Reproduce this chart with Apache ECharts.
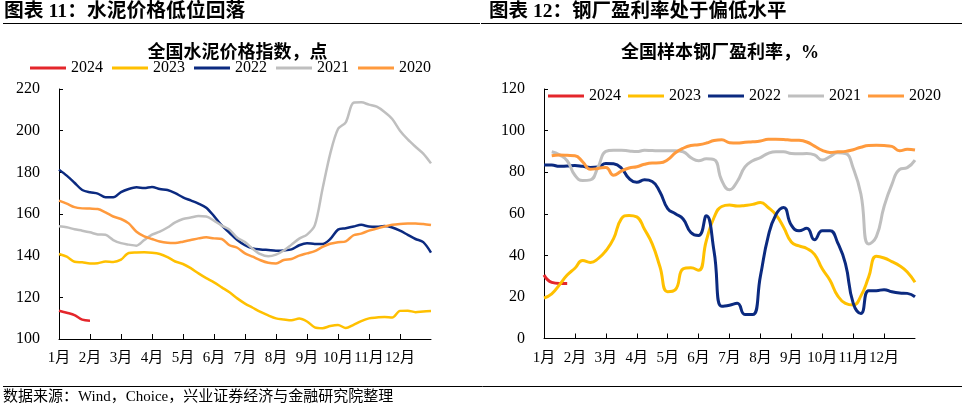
<!DOCTYPE html>
<html><head><meta charset="utf-8">
<script src="https://cdn.jsdelivr.net/npm/echarts@6/dist/echarts.min.js"></script>
<style>html,body{margin:0;padding:0;background:#fff}#c{width:967px;height:408px}</style>
</head><body><div id="c"></div>
<script>
const FONT = '"Liberation Serif", "Noto Sans CJK SC", serif';
const monthLabels = ['1月','2月','3月','4月','5月','6月','7月','8月','9月','10月','11月','12月'];
const yearNames = ['2024','2023','2022','2021','2020'];
const yearColors = ['#E4262B','#FFC000','#0B2A80','#BFBFBF','#FF9A3D'];
// weekly categories (4 per month) + year end
const weeks = [];
for (let m = 1; m <= 12; m++) for (let w = 1; w <= 4; w++) weeks.push(m + '月第' + w + '周');
weeks.push('年末');

// Cement price index (points)
const cement2024 = [113.6,112.6,111.5,109.3,108.8];
const cement2023 = [140.8,139.5,137.1,136.8,136.3,136.4,137.2,137,138.1,141.3,141.5,141.6,141.4,140.8,139.3,137.2,136,134,131.5,129.2,127.2,124.8,122.4,119.5,117,115,113,111.3,109.9,109.4,109,109.8,108.4,105.6,105.2,106.2,106.7,105.3,106.8,108.6,109.9,110.3,110.6,110.3,113.5,113.6,112.9,113.2,113.4];
const cement2022 = [181.3,178.4,175,171.5,170.4,169.8,168,168,170.5,172,172.8,172.5,173,172,171.5,170,168,166.5,165,163,159,154.5,151,147.5,145,143.5,143,142.7,142.4,142.5,143,145,146,145.6,145.6,148,152.5,153.2,154,154.8,154,153.9,154.2,153.5,152,150,148,146.5,141.5];
const cement2021 = [154.1,153.6,152.7,152,151.2,150.2,150,147.5,146,145.3,144.8,147.5,150.1,151.5,153.5,156,157.6,158.3,159,158.8,156.8,154.4,152.5,148.6,146.5,143.3,140.7,139.7,140.5,142.5,145.3,148.2,150.1,154.5,172,189,200.8,204,213.4,213.6,212.5,211.5,209,205.6,200,195.8,192.3,189,184.3];
const cement2020 = [166.4,165,163.3,162.7,162.6,162.4,160.8,158.8,157.6,155.5,151.5,149.3,148,146.8,146.2,146.1,146.7,147.5,148.3,148.8,148.3,148,145,143.8,141.1,139.5,137.8,136.6,136.3,137.9,138.4,140,141.1,142.2,144.2,145.7,146.4,146.9,149.8,150.6,152,153,154,154.8,155.2,155.4,155.5,155.2,154.7];

// Steel mill profit ratio (%)
const steel2024 = [30.5,27,26.5,26.5];
const steel2023 = [19.5,21.5,25.8,30.5,33.8,37.5,36.6,38.4,42.2,48,57.5,59.2,58.5,52.5,45.5,34.5,22.5,23.5,33.5,34,32.8,47,58.2,63.5,64.2,63.7,64,64.5,65.4,63,59.5,53.5,46.4,44.5,43.3,40.5,33.5,28,20.5,16.9,16.1,20.5,29.5,39.5,38.7,37,35,32,27];
const steel2022 = [83.4,83.4,82.8,83,83.2,82.8,82.3,82.5,84.2,84,82,77,75.1,76.3,75.5,70.5,62.5,60,57.5,51,49.5,59,42,15.5,16,16.9,11.5,11.5,30,49,59.5,63,54.5,51.8,53,47.5,51.8,51.8,46,36,17,12,23,23,23.5,22.5,21.9,21.7,20.1];
const steel2021 = [null,89.8,88.3,85.5,78.5,76,76.3,82.5,90,90.6,90.6,90.2,89.9,90.5,90.4,90.3,90.3,90.3,89.8,87,85.5,86.4,86,76,71.5,75.5,82.5,85.5,87,89,89.8,89.8,89,88.8,89,88.3,85.8,87.5,89.3,89,82,69.5,45.5,49,63.5,74,81.3,82.2,85.8];
const steel2020 = [null,87.9,88.2,88.1,87.9,85,81.4,81.8,82.3,78.5,80.5,82,82.6,83.8,84.4,84.5,86,89.3,91.5,92.8,93.2,94,95.2,95.6,94.2,94,94.4,94.6,95,95.8,95.8,95.7,95.4,95.3,94.5,92.5,90.5,89.5,89.8,90,90.8,92,92.8,92.9,92.8,92.4,90.3,91,90.7];

const cementSeries = [cement2024, cement2023, cement2022, cement2021, cement2020];
const steelSeries = [steel2024, steel2023, steel2022, steel2021, steel2020];

const chart = echarts.init(document.getElementById('c'), null, {renderer: 'canvas'});

function xAxis(gridIndex) {
  return {
    type: 'category', gridIndex, data: weeks, boundaryGap: false,
    axisLine: {lineStyle: {color: '#000', width: 1}},
    axisTick: {inside: true, length: 5, lineStyle: {color: '#000'},
      interval: (i) => i % 4 === 0 && i > 0 && i < 48},
    axisLabel: {interval: 3, color: '#000', fontSize: 15, fontFamily: FONT, margin: 12,
      formatter: (v, i) => monthLabels[i / 4] || ''},
    splitLine: {show: false}
  };
}
function yAxis(gridIndex, min, max) {
  return {
    type: 'value', gridIndex, min, max, interval: 20,
    axisLine: {show: true, lineStyle: {color: '#000', width: 1}},
    axisTick: {show: true, inside: true, length: 4, lineStyle: {color: '#000'}},
    axisLabel: {color: '#000', fontSize: 16, fontFamily: FONT, margin: 19},
    splitLine: {show: false}
  };
}
function legend(left, top, gap) {
  return {
    left, top, padding: 0, icon: 'rect', itemWidth: 36, itemHeight: 3, itemGap: gap,
    textStyle: {fontSize: 16, fontFamily: FONT, color: '#000'},
    data: yearNames
  };
}

const series = [];
yearNames.forEach((name, k) => {
  series.push({name, type: 'line', xAxisIndex: 0, yAxisIndex: 0, data: cementSeries[k],
    showSymbol: false, smooth: 0.3, lineStyle: {width: 2.5, color: yearColors[k]}, itemStyle: {color: yearColors[k]}});
});
yearNames.forEach((name, k) => {
  series.push({name, type: 'line', xAxisIndex: 1, yAxisIndex: 1, data: steelSeries[k],
    showSymbol: false, smooth: 0.5, lineStyle: {width: 3, color: yearColors[k]}, itemStyle: {color: yearColors[k]}});
});

const txt = (x, y, text, font, align) => ({type: 'text', x, y, silent: true,
  style: {text, font, fill: '#000', textAlign: align || 'left', textVerticalAlign: 'middle'}});
const hline = (x1, x2, y) => ({type: 'line', silent: true, shape: {x1, y1: y, x2, y2: y}, style: {stroke: '#000', lineWidth: 1}});

chart.setOption({
  backgroundColor: '#fff',
  animation: false,
  grid: [
    {left: 59, top: 89, width: 372, height: 250},
    {left: 544, top: 89, width: 371, height: 249.5}
  ],
  xAxis: [xAxis(0), xAxis(1)],
  yAxis: [yAxis(0, 100, 220), yAxis(1, 0, 120)],
  legend: [legend(30, 60, 9), legend(548, 88, 7)],
  series,
  graphic: [
    txt(4, 12, '图表 11：水泥价格低位回落', 'bold 19.8px ' + FONT),
    txt(489, 12, '图表 12：钢厂盈利率处于偏低水平', 'bold 19.5px ' + FONT),
    hline(3, 480, 23.5),
    hline(481, 962, 23.5),
    txt(237.5, 53, '全国水泥价格指数，点', 'bold 18px ' + FONT, 'center'),
    txt(720, 53, '全国样本钢厂盈利率，%', 'bold 18px ' + FONT, 'center'),
    hline(3, 962, 386.5),
    txt(3, 397, '数据来源：Wind，Choice，兴业证券经济与金融研究院整理', '15px ' + FONT)
  ]
});
</script>
</body></html>
